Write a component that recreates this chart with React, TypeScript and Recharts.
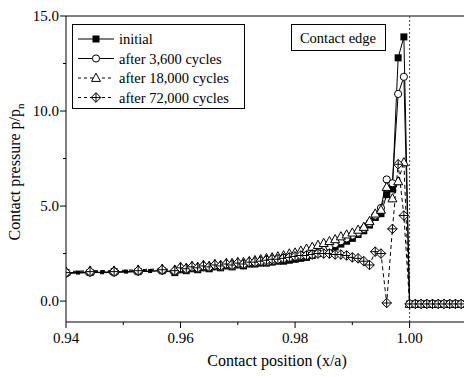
import React from 'react';
import { LineChart, Line, XAxis, YAxis, ReferenceLine } from 'recharts';

// contact position x/a
const positions = [
  0.94, 0.9442, 0.9484, 0.9526, 0.9568,
  0.959, 0.96, 0.961, 0.962, 0.963, 0.964, 0.965, 0.966, 0.967, 0.968, 0.969,
  0.97, 0.971, 0.972, 0.973, 0.974, 0.975, 0.976, 0.977, 0.978, 0.979,
  0.98, 0.981, 0.982, 0.983, 0.984, 0.985, 0.986, 0.987, 0.988, 0.989,
  0.99, 0.991, 0.992, 0.993, 0.994, 0.995, 0.996, 0.997, 0.998, 0.999,
  1.0, 1.001, 1.002, 1.003, 1.004, 1.005, 1.006, 1.007, 1.008, 1.009,
];

const initial = [
  1.5, 1.5, 1.55, 1.55, 1.6,
  1.5, 1.65, 1.6, 1.7, 1.65, 1.75, 1.7, 1.8, 1.75, 1.85, 1.8,
  1.9, 1.85, 1.95, 1.95, 2.0, 2.0, 2.05, 2.1, 2.1, 2.15,
  2.2, 2.25, 2.3, 2.4, 2.5, 2.6, 2.7, 2.85, 3.0, 3.15,
  3.3, 3.5, 3.7, 4.0, 4.4, 4.6, 5.6, 5.9, 12.8, 13.9,
  -0.15, -0.15, -0.15, -0.15, -0.15, -0.15, -0.15, -0.15, -0.15, -0.15,
];

const cycles3600 = [
  1.45, 1.5, 1.5, 1.55, 1.6,
  1.55, 1.7, 1.65, 1.75, 1.7, 1.8, 1.75, 1.85, 1.8, 1.9, 1.85,
  1.95, 1.9, 2.0, 2.0, 2.05, 2.05, 2.1, 2.15, 2.2, 2.25,
  2.3, 2.35, 2.4, 2.5, 2.6, 2.7, 2.85, 3.0, 3.15, 3.3,
  3.45, 3.6, 3.8, 4.1, 4.5, 4.9, 6.4, 6.2, 10.9, 11.8,
  -0.15, -0.15, -0.15, -0.15, -0.15, -0.15, -0.15, -0.15, -0.15, -0.15,
];

const cycles18000 = [
  1.55, 1.6, 1.6, 1.65, 1.7,
  1.65, 1.8, 1.75, 1.85, 1.8, 1.9, 1.85, 1.95, 1.9, 2.0, 2.0,
  2.05, 2.05, 2.1, 2.15, 2.2, 2.25, 2.3, 2.35, 2.4, 2.5,
  2.55, 2.65, 2.75, 2.85, 2.95, 3.05, 3.15, 3.25, 3.4, 3.5,
  3.6, 3.75, 3.9, 4.2, 4.6, 4.8, 6.0, 5.4, 6.3, 7.3,
  -0.15, -0.15, -0.15, -0.15, -0.15, -0.15, -0.15, -0.15, -0.15, -0.15,
];

const cycles72000 = [
  1.5, 1.55, 1.55, 1.6, 1.65,
  1.6, 1.75, 1.7, 1.8, 1.75, 1.85, 1.8, 1.9, 1.85, 1.95, 1.9,
  2.0, 1.95, 2.05, 2.05, 2.1, 2.15, 2.2, 2.2, 2.25, 2.3,
  2.35, 2.4, 2.4, 2.45, 2.5, 2.5, 2.5, 2.45, 2.45, 2.4,
  2.3, 2.25, 2.1, 1.9, 2.6, 2.5, -0.1, 3.8, 7.2, 4.5,
  -0.15, -0.15, -0.15, -0.15, -0.15, -0.15, -0.15, -0.15, -0.15, -0.15,
];

// small extra points of the initial curve between the coarse nodes
const initialMidX = [0.9421, 0.9463, 0.9505, 0.9547];
const initialMidY = [1.5, 1.52, 1.55, 1.58];

const xTicks = [0.94, 0.95, 0.96, 0.97, 0.98, 0.99, 1.0];
const yTicks = [0, 2.5, 5, 7.5, 10, 12.5, 15];

const data = positions.map((x, i) => ({
  x,
  initial: initial[i],
  c3600: cycles3600[i],
  c18000: cycles18000[i],
  c72000: cycles72000[i],
}));
const midData = initialMidX.map((x, i) => ({ x, initial: initialMidY[i] }));

const FONT = '"Liberation Serif", "Times New Roman", serif';
const serif = { fontFamily: FONT };

const SquareDot = (p: any) =>
  p.cx == null ? null : <rect key={p.index} x={p.cx - 3.5} y={p.cy - 3.5} width={7} height={7} fill="#000" />;
const SmallSquareDot = (p: any) =>
  p.cx == null ? null : <rect key={p.index} x={p.cx - 2} y={p.cy - 2} width={4} height={4} fill="#000" />;
const CircleDot = (p: any) =>
  p.cx == null ? null : <circle key={p.index} cx={p.cx} cy={p.cy} r={3.6} fill="#fff" stroke="#000" strokeWidth={1} />;
const TriangleDot = (p: any) =>
  p.cx == null ? null : (
    <polygon key={p.index} points={`${p.cx},${p.cy - 4.8} ${p.cx - 4.5},${p.cy + 3.4} ${p.cx + 4.5},${p.cy + 3.4}`} fill="#fff" stroke="#000" strokeWidth={1} />
  );
const DiamondDot = (p: any) =>
  p.cx == null ? null : (
    <g key={p.index}>
      <polygon points={`${p.cx},${p.cy - 4.8} ${p.cx + 4.8},${p.cy} ${p.cx},${p.cy + 4.8} ${p.cx - 4.8},${p.cy}`} fill="#fff" stroke="#000" strokeWidth={1} />
      <line x1={p.cx - 4.8} x2={p.cx + 4.8} y1={p.cy} y2={p.cy} stroke="#000" />
      <line x1={p.cx} x2={p.cx} y1={p.cy - 4.8} y2={p.cy + 4.8} stroke="#000" />
    </g>
  );

const XTick = (props: any) => {
  const { x, y, payload } = props;
  const major = Math.round(payload.value * 100) % 2 === 0;
  return (
    <g>
      <line x1={x} x2={x} y1={y} y2={y + (major ? 6 : 3)} stroke="#000" />
      {major && (
        <text x={x} y={y + 21} textAnchor="middle" style={serif} fontSize={15} fill="#000">
          {payload.value.toFixed(2)}
        </text>
      )}
    </g>
  );
};

const YTick = (props: any) => {
  const { x, y, payload } = props;
  const major = payload.value % 5 === 0;
  return (
    <g>
      <line x1={x} x2={x - (major ? 6 : 3)} y1={y} y2={y} stroke="#000" />
      {major && (
        <text x={x - 7} y={y + 5} textAnchor="end" style={serif} fontSize={15} fill="#000">
          {payload.value.toFixed(1)}
        </text>
      )}
    </g>
  );
};

const legendRows = [
  { label: 'initial', dash: undefined, Dot: SquareDot },
  { label: 'after 3,600 cycles', dash: undefined, Dot: CircleDot },
  { label: 'after 18,000 cycles', dash: '3 3', Dot: TriangleDot },
  { label: 'after 72,000 cycles', dash: '3 3', Dot: DiamondDot },
];

export default function App() {
  return (
    <div style={{ position: 'absolute', left: 0, top: 0, width: 464, height: 377, background: '#fff', fontFamily: FONT }}>
      <LineChart width={464} height={377} data={data} margin={{ top: 16, right: 0, left: 26, bottom: 25 }}>
        <XAxis
          dataKey="x"
          type="number"
          domain={[0.94, 1.0095]}
          ticks={xTicks}
          allowDataOverflow
          height={30}
          tickSize={0}
          tickMargin={0}
          tick={<XTick />}
          stroke="#000"
          interval={0}
        />
        <YAxis
          type="number"
          domain={[-1.1, 15]}
          ticks={yTicks}
          allowDataOverflow
          width={40}
          tickSize={0}
          tickMargin={0}
          tick={<YTick />}
          stroke="#000"
          interval={0}
        />
        <ReferenceLine y={15} stroke="#000" />
        <ReferenceLine x={1.0} stroke="#444" strokeDasharray="2 2" />
        <Line dataKey="initial" stroke="#000" strokeWidth={1} dot={SquareDot} isAnimationActive={false} />
        <Line data={midData} dataKey="initial" stroke="none" dot={SmallSquareDot} isAnimationActive={false} legendType="none" />
        <Line dataKey="c3600" stroke="#000" strokeWidth={1} dot={CircleDot} isAnimationActive={false} />
        <Line dataKey="c18000" stroke="#000" strokeWidth={1} strokeDasharray="4 3" dot={TriangleDot} isAnimationActive={false} />
        <Line dataKey="c72000" stroke="#000" strokeWidth={1} strokeDasharray="4 3" dot={DiamondDot} isAnimationActive={false} />
      </LineChart>
      <svg width={464} height={377} style={{ position: 'absolute', left: 0, top: 0, pointerEvents: 'none' }}>
        <g fill="#000">
          <text x={277} y={366} textAnchor="middle" fontSize={16} style={serif}>Contact position (x/a)</text>
          <text transform="translate(20,172) rotate(-90)" textAnchor="middle" fontSize={16} style={serif}>
            Contact pressure p/p<tspan fontSize={11} dy={4}>n</tspan>
          </text>
          <rect x={72.5} y={24.5} width={172} height={84} fill="#fff" stroke="#000" />
          {legendRows.map((r, i) => {
            const cy = 39 + i * 19.5;
            return (
              <g key={r.label}>
                <line x1={78} x2={114} y1={cy} y2={cy} stroke="#000" strokeDasharray={r.dash} />
                {r.Dot({ cx: 96, cy, index: i })}
                <text x={119} y={cy + 5} fontSize={14.5} style={serif}>{r.label}</text>
              </g>
            );
          })}
          <rect x={291.5} y={24.5} width={94} height={26} fill="#fff" stroke="#000" />
          <text x={338} y={43} textAnchor="middle" fontSize={14.5} style={serif}>Contact edge</text>
        </g>
      </svg>
    </div>
  );
}
